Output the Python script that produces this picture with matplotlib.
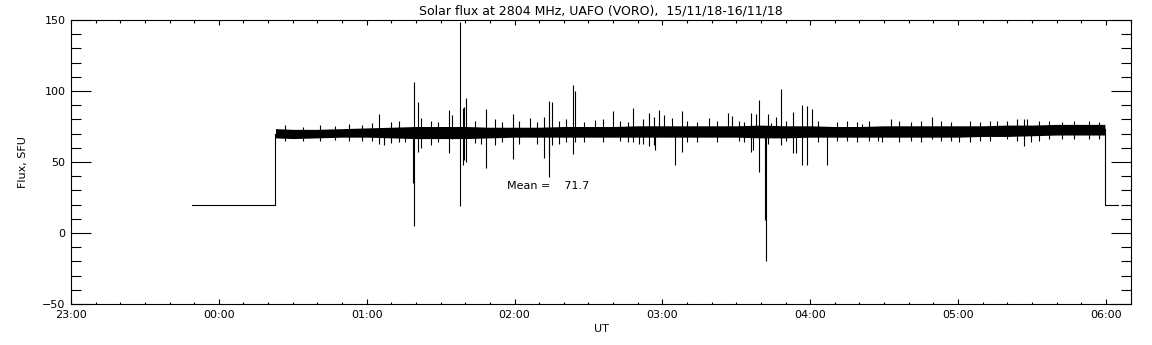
import numpy as np
import matplotlib.pyplot as plt
from matplotlib.ticker import MultipleLocator, FuncFormatter

# Solar flux at 2804 MHz
# times in minutes after 00:00 UT

# flat "no data" level before and after the observing run
lead_t = [-10.8, 23.0, 23.0]
lead_v = [20, 20, 70]
tail_t = [359.6, 359.6, 365.0]
tail_v = [73, 20, 20]

# envelope of the dense noise band, every 10 minutes
band_t = [23, 30, 40, 50, 60, 70, 80, 90, 100, 110, 120, 130, 140, 150, 160,
          170, 180, 190, 200, 210, 220, 230, 240, 250, 260, 270, 280, 290,
          300, 310, 320, 330, 340, 350, 359.6]
band_hi = [73.5, 73.0, 73.0, 73.5, 74.0, 74.5, 75.0, 75.0, 75.0, 74.5, 74.5,
           74.5, 75.0, 75.0, 75.0, 75.5, 75.5, 75.5, 75.5, 75.5, 76.0, 75.5,
           75.5, 75.0, 75.0, 75.5, 75.5, 75.5, 75.5, 75.5, 76.0, 76.0, 76.5,
           76.5, 76.5]
band_lo = [67.0, 66.5, 67.0, 67.5, 67.5, 67.0, 66.5, 66.5, 66.5, 67.0, 67.5,
           67.5, 67.5, 67.5, 67.5, 67.5, 67.5, 67.5, 67.5, 67.5, 67.0, 67.0,
           67.5, 67.5, 67.5, 67.5, 67.5, 67.5, 67.5, 68.0, 68.0, 68.5, 69.0,
           69.0, 69.0]

# individual spikes: time, top, bottom
spike_t = [65.0, 67.0, 75.4, 78.8, 79.3, 80.7, 82.2, 93.6, 94.7, 97.7, 99.0,
           99.7, 100.4, 106.2, 108.5, 119.3, 126.1, 131.8, 133.8, 134.2,
           135.1, 143.9, 144.6, 152.8, 160.1, 168.0, 170.7, 174.7, 176.5,
           177.1, 178.8, 180.8, 183.9, 185.0, 187.8, 198.8, 206.5, 208.1,
           216.0, 216.6, 218.2, 219.3, 221.6, 222.0, 222.7, 224.0, 226.1,
           228.0, 233.2, 234.2, 236.5, 238.9, 240.7, 247.0, 261.2, 267.7,
           269.3, 272.7, 289.6, 300.4, 315.7, 326.8, 328.0, 329.7]
spike_top = [84, 74, 72, 75, 106.6, 92.5, 80.8, 86.6, 83, 148.6, 88, 89,
             95, 72, 87, 84, 80.7, 82, 93, 72, 92, 104.2, 100, 79.6, 85.9,
             87.8, 72, 84.3, 82, 72, 86.6, 83, 80.7, 72, 86.1, 80.7, 84.3,
             82.4, 84.3, 72, 83.6, 93.6, 72, 72, 83.6, 77.2, 82, 101.4, 85,
             72, 90.1, 89.6, 87.3, 72, 77, 72, 72, 80.3, 81.5, 72, 78.9,
             80.3, 80.3, 72]
spike_bot = [63, 62, 64, 35.4, 5.2, 57, 60, 56, 66, 19.2, 47.9, 51.4, 50,
             63, 45.5, 52, 70, 52.6, 55, 39.7, 62, 55.4, 64, 70, 70, 64.3,
             63, 61.5, 62, 58.4, 70, 70, 70, 47.9, 57.3, 70, 70, 70, 57.3,
             58.4, 70, 42.7, 9.2, -19.5, 63, 70, 70, 62, 56.1, 56.1, 47.9,
             47.9, 70, 47.9, 70, 64.8, 64.3, 70, 66, 64.3, 70, 61.5, 70,
             64.3]

# small excursions that make the band edge ragged
fuzz_t = [27, 34, 41, 47, 53, 58, 62, 70, 73, 86, 89, 104, 112, 115, 122,
          129, 138, 141, 148, 156, 163, 166, 172, 190, 194, 202, 211, 213,
          230, 243, 251, 255, 259, 264, 276, 281, 285, 293, 297, 305, 309,
          313, 320, 324, 333, 337, 342, 347, 353, 357]
fuzz_top = [76, 75, 76, 75.5, 77, 76, 77.5, 78, 79, 79, 78, 79, 80, 78, 79,
            78, 79, 80, 78, 80, 79, 78, 80, 79, 78, 79, 79, 78, 79, 79, 78,
            79, 78, 79, 79, 78, 79, 79, 78, 79, 78, 79, 79, 80, 79, 79, 78,
            79, 79, 78]
fuzz_bot = [64.5, 65, 65, 65.5, 64.5, 65, 65, 63.5, 64, 62, 64, 63.5, 62,
            64, 63, 63, 63, 64, 64, 64, 65, 64, 63, 64, 64, 64, 65, 64, 65,
            64, 65, 65, 64, 65, 64, 65, 64, 65, 65, 64, 65, 65, 66, 65, 65,
            66, 66, 66, 66, 66]

mean_flux = 71.7

h = lambda m: np.asarray(m, dtype=float) / 60.0

fig = plt.figure(figsize=(11.52, 3.45), dpi=100)
ax = fig.add_axes([0.0616, 0.1188, 0.9202, 0.8232])

lw = 0.8
ax.plot(h(lead_t), lead_v, color='black', lw=lw)
ax.plot(h(tail_t), tail_v, color='black', lw=lw)
ax.fill_between(h(band_t), band_lo, band_hi, color='black', lw=0)
ax.vlines(h(fuzz_t), fuzz_bot, fuzz_top, color='black', lw=lw)
ax.vlines(h(spike_t), spike_bot, spike_top, color='black', lw=lw)

ax.text(1.946, 33, 'Mean =    %.1f' % mean_flux, fontsize=8,
        ha='left', va='center')

ax.set_xlim(-1, 6.17)
ax.set_ylim(-50, 150)

ax.xaxis.set_major_locator(MultipleLocator(1))
ax.xaxis.set_minor_locator(MultipleLocator(1 / 6))
ax.xaxis.set_major_formatter(FuncFormatter(lambda v, p: '%02d:00' % (round(v) % 24)))
ax.yaxis.set_major_locator(MultipleLocator(50))
ax.yaxis.set_minor_locator(MultipleLocator(10))

ax.tick_params(axis='x', which='major', direction='in', length=3.6,
               width=0.8, top=True, pad=4, labelsize=8)
ax.tick_params(axis='x', which='minor', direction='in', length=1.8,
               width=0.8, top=True)
ax.tick_params(axis='y', which='major', direction='in', length=14.4,
               width=0.8, right=True, pad=4, labelsize=8)
ax.tick_params(axis='y', which='minor', direction='in', length=7.2,
               width=0.8, right=True)
for s in ax.spines.values():
    s.set_linewidth(0.8)

ax.set_xlabel('UT', fontsize=8, labelpad=3)
ax.set_ylabel('Flux, SFU', fontsize=8, labelpad=10)
ax.set_title('Solar flux at 2804 MHz, UAFO (VORO),  15/11/18-16/11/18',
             fontsize=9, pad=4)

fig.savefig('out.png', dpi=100)
plt.close(fig)
